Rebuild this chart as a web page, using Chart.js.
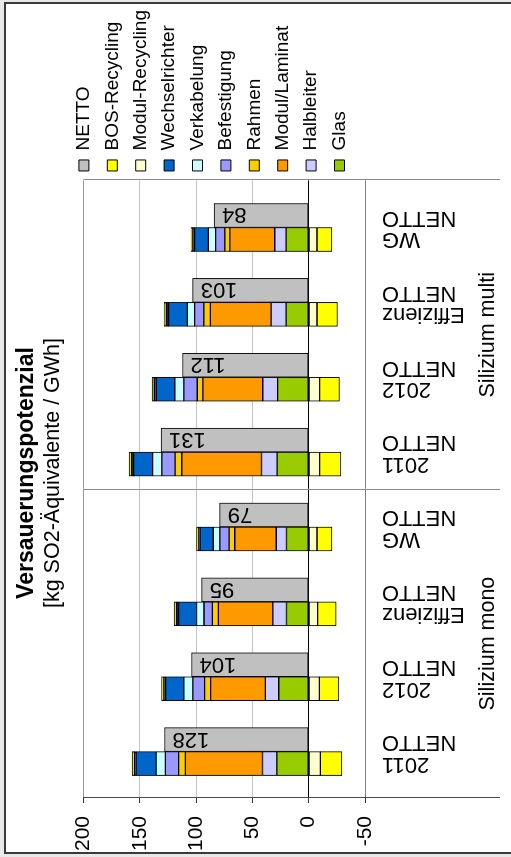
<!DOCTYPE html>
<html><head><meta charset="utf-8">
<script src="https://cdn.jsdelivr.net/npm/chart.js@4.4.1/dist/chart.umd.min.js"></script>
<style>
html,body{margin:0;padding:0;width:511px;height:857px;overflow:hidden;background:#e9e9e9;}
#frame{position:absolute;left:4px;top:2px;width:530px;height:852px;box-sizing:border-box;border:2px solid #3a3a3a;background:#fff;}
#wrap{position:absolute;left:0;top:0;width:857px;height:511px;transform-origin:0 0;transform:translate(0,857px) rotate(-90deg);}
canvas{display:block;}
</style></head><body>
<div id="frame"></div>
<div id="wrap"><canvas id="c" width="857" height="511"></canvas></div>
<script>
// ---- data ----
const CATEGORIES = [['2011','NETTO'],['2012','NETTO'],['Effizienz','NETTO'],['WG','NETTO'],
                    ['2011','NETTO'],['2012','NETTO'],['Effizienz','NETTO'],['WG','NETTO']];
const GROUPS = ['Silizium mono','Silizium multi'];
const GROUP_SIZES = [4, 4];
const TITLE = 'Versauerungspotenzial';
const SUBTITLE = '[kg SO2-Äquivalente / GWh]';
const Y_MIN = -50, Y_MAX = 200, Y_STEP = 50;

const GLAS           = [28.3, 26.6, 19.7, 19.7, 28.0, 27.5, 20.0, 20.0];
const HALBLEITER     = [12.7, 11.8, 12.1,  9.1, 13.9, 13.3, 13.3, 10.1];
const MODUL_LAMINAT  = [68.5, 48.7, 48.4, 36.8, 70.8, 53.1, 54.0, 39.9];
const RAHMEN         = [ 5.9,  5.3,  5.3,  5.0,  5.9,  5.0,  5.7,  4.4];
const BEFESTIGUNG    = [11.8, 10.4,  7.4,  8.2, 11.8, 11.9,  8.2,  8.2];
const VERKABELUNG    = [ 8.3,  8.0,  6.7,  5.9,  8.2,  8.0,  6.5,  6.5];
const WECHSELRICHTER = [17.7, 16.2, 15.9, 11.8, 16.8, 16.5, 16.6, 12.1];
const REST_DUNKEL    = [ 1.6,  1.6,  2.0,  1.6,  2.0,  1.8,  2.2,  1.8];
const REST_GELB      = [ 2.0,  2.0,  2.0,  1.5,  2.0,  2.0,  1.8,  1.5];
const MODUL_RECYCLING= [-10.4, -9.5, -8.0, -7.4, -9.7, -9.7, -7.4, -7.4];
const BOS_RECYCLING  = [-19.1,-17.4,-16.3,-13.3,-19.0,-17.7,-18.2,-13.3];
const NETTO          = [128, 104, 95, 79, 131, 112, 103, 84];

// ---- chart ----
Chart.defaults.font.family = '"Liberation Sans", Arial, sans-serif';
Chart.defaults.color = '#000';

const pts = (arr) => arr.map((v, i) => ({x: i, y: v}));
const ds = (label, arr, color, stack, inLegend = true) => ({
  label, data: pts(arr), backgroundColor: color, borderColor: '#000', borderWidth: 1,
  borderSkipped: false, stack, barThickness: 24, inLegend
});

const datasets = [
  ds('Glas', GLAS, '#99CC00', 'a'),
  ds('Halbleiter', HALBLEITER, '#CCCCFF', 'a'),
  ds('Modul/Laminat', MODUL_LAMINAT, '#FF9900', 'a'),
  ds('Rahmen', RAHMEN, '#FFCC00', 'a'),
  ds('Befestigung', BEFESTIGUNG, '#9999FF', 'a'),
  ds('Verkabelung', VERKABELUNG, '#CCFFFF', 'a'),
  ds('Wechselrichter', WECHSELRICHTER, '#0066CC', 'a'),
  ds('Rest', REST_DUNKEL, '#222222', 'a', false),
  ds('BOS-Aufwand', REST_GELB, '#FFFF00', 'a', false),
  ds('Modul-Recycling', MODUL_RECYCLING, '#FFFFCC', 'a'),
  ds('BOS-Recycling', BOS_RECYCLING, '#FFFF00', 'a'),
  ds('NETTO', NETTO, '#C0C0C0', 'b')
];

const decor = {
  id: 'decor',
  afterDatasetsDraw(chart) {
    const ctx = chart.ctx;
    const meta = chart.getDatasetMeta(chart.data.datasets.length - 1);
    ctx.save();
    ctx.font = '22px "Liberation Sans", Arial, sans-serif';
    ctx.fillStyle = '#000';
    ctx.textAlign = 'right';
    ctx.textBaseline = 'middle';
    meta.data.forEach((el, i) => {
      ctx.save();
      ctx.translate(el.x, el.y + 8);
      ctx.rotate(-Math.PI / 2);
      ctx.fillText(String(NETTO[i]), 0, 1);
      ctx.restore();
    });
    ctx.restore();
  },
  afterDraw(chart) {
    const {ctx, chartArea, scales: {x, x2}} = chart;
    const lines = [{v: x.min, c: '#4a4a4a'}];
    let acc = 0;
    GROUP_SIZES.slice(0, -1).forEach(n => { acc += n; lines.push({v: acc - 0.5, c: '#8a8a8a'}); });
    lines.push({v: x.max, c: '#8a8a8a'});
    ctx.save();
    ctx.lineWidth = 1;
    lines.forEach(l => {
      const px = Math.round(x.getPixelForValue(l.v)) + 0.5;
      ctx.strokeStyle = l.c;
      ctx.beginPath();
      ctx.moveTo(px, chartArea.top);
      ctx.lineTo(px, x2.bottom);
      ctx.stroke();
    });
    ctx.restore();
  }
};

new Chart(document.getElementById('c'), {
  type: 'bar',
  data: {datasets},
  plugins: [decor],
  options: {
    responsive: false,
    devicePixelRatio: 1,
    animation: false,
    events: [],
    layout: {padding: {left: -89, right: 0, top: 0, bottom: 11}},
    plugins: {
      tooltip: {enabled: false},
      title: {display: true, text: TITLE, color: '#000', font: {size: 23, weight: 'bold'}, padding: {top: 13, bottom: 0}},
      subtitle: {display: true, text: SUBTITLE, color: '#000', font: {size: 21.5}, padding: {top: 0, bottom: 17}},
      legend: {
        position: 'right', align: 'start', fullSize: true, reverse: true,
        title: {display: true, text: '', padding: {top: 53, bottom: 0}, font: {size: 10}},
        labels: {
          boxWidth: 11, boxHeight: 10, padding: 9.4, color: '#000', font: {size: 19},
          filter: (item, data) => data.datasets[item.datasetIndex].inLegend !== false
        }
      }
    },
    scales: {
      x: {
        type: 'linear', position: 'bottom', min: -0.62, max: CATEGORIES.length - 1 + 0.63,
        offset: false, weight: 0,
        afterBuildTicks: (s) => { s.ticks = CATEGORIES.map((_, i) => ({value: i})); },
        afterFit: (s) => { s.height = 110; },
        grid: {display: false, drawTicks: false},
        border: {display: false},
        ticks: {
          autoSkip: false, minRotation: 90, maxRotation: 90, padding: 17, labelOffset: -12,
          color: '#000', font: {size: 22, lineHeight: 0.98},
          callback: (v) => CATEGORIES[v]
        }
      },
      x2: {
        type: 'category', labels: GROUPS, position: 'bottom', offset: true, weight: 1,
        afterFit: (s) => { s.height = 25; },
        grid: {display: false, drawTicks: false},
        border: {display: false},
        ticks: {padding: 0, maxRotation: 0, autoSkip: false, color: '#000', font: {size: 21.5}}
      },
      y: {
        stacked: true, min: Y_MIN, max: Y_MAX,
        afterFit: (s) => { s.width = 148; },
        border: {display: true, color: '#3c3c3c', width: 1},
        grid: {
          tickLength: 5, tickColor: '#333',
          color: (c) => c.tick.value === 0 ? '#000000' : c.tick.value === Y_MIN ? '#7f7f7f' : c.tick.value === Y_MAX ? '#9a9a9a' : '#c4c4c4'
        },
        ticks: {stepSize: Y_STEP, padding: 13, color: '#000', font: {size: 21}}
      }
    }
  }
});
</script>
</body></html>
